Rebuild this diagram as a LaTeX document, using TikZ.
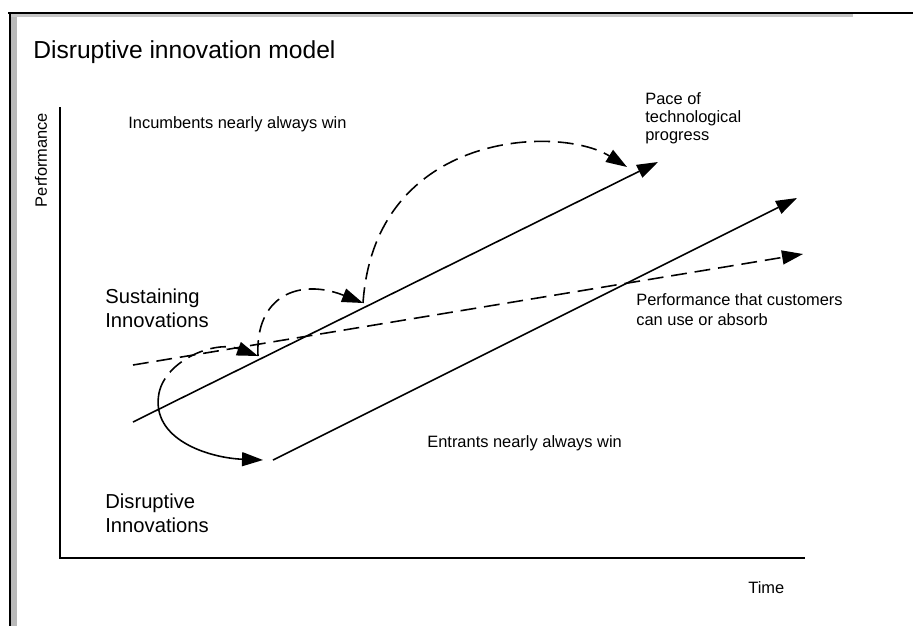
\documentclass[tikz,border=0pt]{standalone}
\usepackage{fontspec}
\setmainfont{Liberation Sans}
\usetikzlibrary{arrows.meta}

\begin{document}
\begin{tikzpicture}[x=0.02cm,y=-0.02cm,
  tip/.style={-{Triangle[length=0.42cm,width=0.28cm]}},
  dashline/.style={dash pattern=on 9pt off 4.5pt},
  lbl/.style={inner sep=0pt,font=\fontsize{9.35}{10.2}\selectfont,align=left},
  biglbl/.style={inner sep=0pt,font=\fontsize{11.5}{13.6}\selectfont,align=left}]
  \useasboundingbox (0,0) rectangle (913,626);
  % Window frame
  \fill[gray!55] (11,13) rectangle (17,626);
  \fill[gray!45] (11,13) rectangle (853,17);
  \draw[line width=1.2pt] (8,13) -- (913,13);
  \draw[line width=1.2pt] (10,13) -- (10,626);
  % Title
  \node[anchor=base west,inner sep=0pt,font=\fontsize{14}{16}\selectfont] (title) at (33,58) {Disruptive innovation model};
  % Axes
  \coordinate (yend) at (60,107);
  \coordinate (origin) at (60,558);
  \coordinate (xend) at (805,558);
  \draw[line width=1.4pt] (yend) -- (origin) -- (xend);
  \node[lbl,rotate=90,anchor=base] (perf) at (47,160) {Performance};
  \node[lbl,anchor=base west] (time) at (748,593) {Time};
  % Trajectories
  \coordinate (tech-start) at (133,422);
  \coordinate (tech-end) at (658,162);
  \coordinate (dis-start) at (273,460);
  \coordinate (dis-end) at (797,198);
  \coordinate (cust-start) at (133,365);
  \coordinate (cust-end) at (803,254);
  \draw[line width=0.9pt,tip] (tech-start) -- (tech-end);
  \draw[line width=0.9pt,tip] (dis-start) -- (dis-end);
  \draw[line width=0.9pt,dashline,tip] (cust-start) -- (cust-end);
  % Innovation jumps
  \coordinate (jump0) at (159,393);
  \coordinate (jump1) at (258,356);
  \coordinate (jump2) at (363,303);
  \coordinate (jump3) at (627,167);
  \coordinate (dis-land) at (263,460);
  \draw[line width=0.9pt,tip] (jump0) .. controls (150,440) and (210,458) .. (dis-land);
  \draw[line width=0.9pt,dashline,tip] (jump0) .. controls (166,360) and (215,340) .. (jump1);
  \draw[line width=0.9pt,dashline,tip] (jump1) .. controls (255,295) and (300,278) .. (jump2);
  \draw[line width=0.9pt,dashline,tip] (jump2) .. controls (375,130) and (560,125) .. (jump3);
  % Labels
  \node[lbl,anchor=base west] (incumb) at (128,128) {Incumbents nearly always win};
  \node[lbl,anchor=base west] (entrants) at (427,447) {Entrants nearly always win};
  \node[lbl,anchor=base west] (pace) at (645,140) {Pace of\\technological\\progress};
  \node[lbl,anchor=base west,font=\fontsize{9.35}{11.3}\selectfont] (custom) at (636,325) {Performance that customers\\can use or absorb};
  \node[biglbl,anchor=base west] (sustain) at (105,327) {Sustaining\\Innovations};
  \node[biglbl,anchor=base west] (disrupt) at (105,532) {Disruptive\\Innovations};
\end{tikzpicture}
\end{document}
